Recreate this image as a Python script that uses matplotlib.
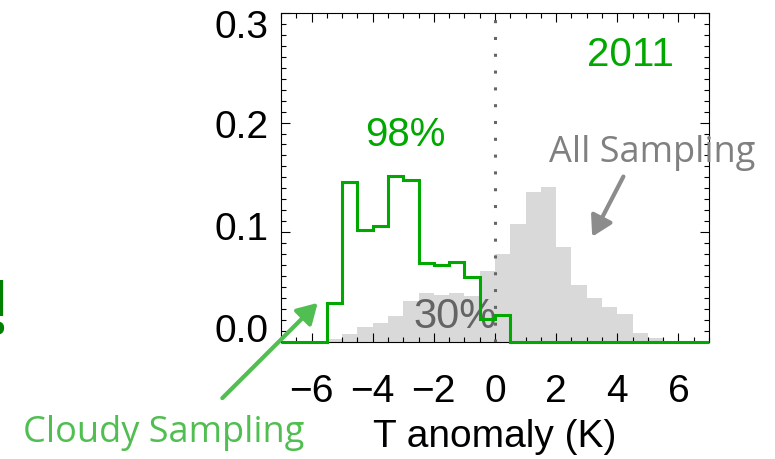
import numpy as np
import matplotlib
matplotlib.use("Agg")
import matplotlib.pyplot as plt
from matplotlib.ticker import MultipleLocator, NullFormatter

plt.rcParams['font.family'] = ['Liberation Sans', 'DejaVu Sans']

# 0.5 K bins of the temperature anomaly
bin_edges = [-7.0, -6.5, -6.0, -5.5, -5.0, -4.5, -4.0, -3.5, -3.0, -2.5,
             -2.0, -1.5, -1.0, -0.5, 0.0, 0.5, 1.0, 1.5, 2.0, 2.5,
             3.0, 3.5, 4.0, 4.5, 5.0, 5.5, 6.0, 6.5, 7.0]

# fraction of samples per bin, all sampling (grey) and cloudy sampling (green)
all_frac = [0.0, 0.0, 0.0, 0.002, 0.007, 0.013, 0.017, 0.0235, 0.037, 0.044,
            0.043, 0.044, 0.042, 0.0646, 0.080, 0.107, 0.137, 0.141, 0.086, 0.052,
            0.040, 0.032, 0.025, 0.008, 0.003, 0.0, 0.0, 0.0]
cloudy_frac = [0.0, 0.0, 0.0, 0.035, 0.146, 0.102, 0.106, 0.151, 0.148, 0.072,
               0.070, 0.073, 0.059, 0.021, 0.024, 0.0, 0.0, 0.0, 0.0, 0.0,
               0.0, 0.0, 0.0, 0.0, 0.0, 0.0, 0.0, 0.0]

y_ticks = [0.0, 0.1, 0.2, 0.3]
# vertical nudge of each y label (points), as laid out on the slide
y_label_shift = [7, 1.4, -3.6, -11]

green = '#00A800'
light_green = '#50BE50'

fig = plt.figure(figsize=(7.75, 4.59), dpi=100)
ax = fig.add_axes([0.3626, 0.2556, 0.5522, 0.7161])

ax.bar(bin_edges[:-1], all_frac, width=0.5, align='edge', color='#D9D9D9', lw=0, zorder=1)
ax.axvline(0, color='#666666', lw=2.2, ls=(0, (1, 4.5)), zorder=2)
ax.stairs(cloudy_frac, bin_edges, color=green, lw=2.2, zorder=4, clip_on=False)

ax.set_xlim(-7, 7)
ax.set_ylim(0, 0.3)
ax.xaxis.set_major_locator(MultipleLocator(2))
ax.xaxis.set_minor_locator(MultipleLocator(0.5))
ax.set_yticks(y_ticks)
ax.yaxis.set_minor_locator(MultipleLocator(0.01))
ax.yaxis.set_major_formatter(NullFormatter())
ax.tick_params(which='both', direction='in', top=True, right=True, width=0.8, color='black')
ax.tick_params(which='major', length=6.5)
ax.tick_params(which='minor', length=3.5)
ax.tick_params(axis='x', pad=23, labelsize=28)
for sp in ax.spines.values():
    sp.set_linewidth(0.8)
ax.set_xlabel('T anomaly (K)', fontsize=28, labelpad=7)

for v, dy in zip(y_ticks, y_label_shift):
    ax.annotate(f'{v:.1f}', xy=(0, v), xycoords=('axes fraction', 'data'),
                xytext=(-9, dy), textcoords='offset points',
                ha='right', va='center', fontsize=28, annotation_clip=False)

# labels inside the panel
ax.text(4.43, 0.262, '2011', color=green, fontsize=29, ha='center', va='center')
ax.text(-2.95, 0.189, '98%', color=green, fontsize=29, ha='center', va='center')
ax.text(-1.31, 0.0225, '30%', color='#646464', fontsize=30, ha='center', va='center', zorder=3)

# annotations with arrows
fig.text(0.841, 0.647, 'All Sampling', color='#808080', fontsize=26,
         family='Open Sans', ha='center', va='baseline')
ax.annotate('', xy=(3.18, 0.0958), xytext=(4.20, 0.1507), annotation_clip=False,
            arrowprops=dict(arrowstyle='-|>,head_length=0.6,head_width=0.35',
                            color='#8C8C8C', lw=3, mutation_scale=20,
                            shrinkA=0, shrinkB=0))
fig.text(0.211, 0.037, 'Cloudy Sampling', color=light_green, fontsize=26,
         family='Open Sans', ha='center', va='baseline')
ax.annotate('', xy=(-5.80, 0.0354), xytext=(-8.92, -0.0515), annotation_clip=False,
            arrowprops=dict(arrowstyle='-|>,head_length=0.6,head_width=0.35',
                            color=light_green, lw=3, mutation_scale=20,
                            shrinkA=0, shrinkB=0))

fig.text(-0.003, 0.274, '!', color='#008000', fontsize=54, fontweight='bold',
         family='Open Sans', ha='center', va='baseline')

fig.savefig('out.png', dpi=100)
